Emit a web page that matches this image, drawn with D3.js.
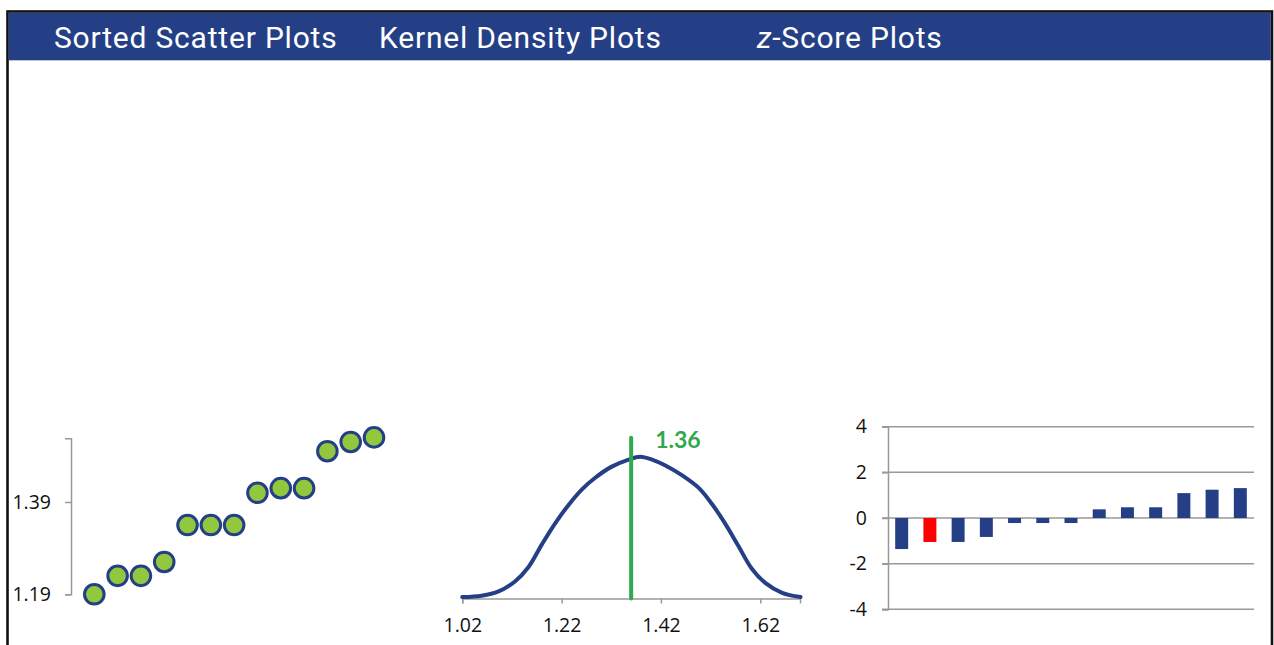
<html>
	<head>
		<meta content="text/html;charset=utf-8" http-equiv="Content-Type">
		<script src="https://d3js.org/d3.v7.min.js"></script>
		<style>
			body { margin: 0; background: #ffffff; }
			.axis path, .axis line { stroke: #999999; stroke-width: 1.5; }
			.axis text { font-family: "Open Sans", "Liberation Sans", sans-serif; font-size: 19.5px; fill: #111111; }
		</style>
	</head>
	<body>
		<div id="stuff">
			<svg width="1274" height="645"></svg>
		</div>
		<script>

	// header titles
	var titles = ["Sorted Scatter Plots", "Kernel Density Plots", "-Score Plots"];

	// sorted scatter plot
	var scatterValues = [1.19, 1.23, 1.23, 1.26, 1.34, 1.34, 1.34, 1.41, 1.42, 1.42, 1.50, 1.52, 1.53];
	var scatterTicks = [1.19, 1.39];

	// kernel density curve
	var densityX = [1.020, 1.059, 1.093, 1.126, 1.153, 1.180, 1.207, 1.234, 1.261, 1.287, 1.321, 1.355,
		1.378, 1.402, 1.428, 1.462, 1.496, 1.522, 1.549, 1.576, 1.603, 1.630, 1.664, 1.701];
	var densityY = [0.01, 0.02, 0.05, 0.12, 0.22, 0.38, 0.53, 0.66, 0.77, 0.85, 0.93, 0.98,
		1.00, 0.98, 0.94, 0.87, 0.78, 0.67, 0.53, 0.37, 0.21, 0.11, 0.04, 0.01];
	var densityTicks = [1.02, 1.22, 1.42, 1.62];
	var meanValue = 1.36;

	// z-score bars
	var zScores = [-1.36, -1.05, -1.05, -0.83, -0.22, -0.22, -0.22, 0.38, 0.47, 0.47, 1.09, 1.24, 1.31];
	var zTicks = [4, 2, 0, -2, -4];
	var highlightIndex = 1;

	var navy = "#253f86";
	var green = "#2fa84f";
	var svg = d3.select("#stuff").select("svg");

	drawFrame();
	drawScatter();
	drawDensity();
	drawZScores();

	/**
	 * @function drawFrame
	 * @description black border and blue title band
	 */
	function drawFrame() {
		svg.append("rect")
			.attr("x", 7.5)
			.attr("y", 11.5)
			.attr("width", 1264.5)
			.attr("height", 700)
			.attr("fill", "#ffffff")
			.attr("stroke", "#111111")
			.attr("stroke-width", 2.6);
		svg.append("rect")
			.attr("x", 8.8)
			.attr("y", 12.8)
			.attr("width", 1262)
			.attr("height", 47.5)
			.attr("fill", navy);
		var titleX = [54, 379, 757];
		titles.forEach(function(t, i) {
			var txt = svg.append("text")
				.attr("x", titleX[i])
				.attr("y", 47.5)
				.attr("font-family", "Roboto, sans-serif")
				.style("font-size", "30px")
				.style("letter-spacing", "0.8px")
				.attr("fill", "#ffffff");
			if (i === 2) {
				txt.append("tspan").style("font-style", "italic").text("z");
			}
			txt.append("tspan").text(t);
		});
	}

	/**
	 * @function drawScatter
	 * @description sorted values as green dots
	 */
	function drawScatter() {
		var x = d3.scaleLinear().domain([1, scatterValues.length]).range([94.3, 374]);
		var y = d3.scaleLinear().domain([1.19, 1.528]).range([594.3, 438.3]);
		svg.append("g")
			.attr("class", "axis")
			.attr("transform", "translate(71,0)")
			.call(d3.axisLeft(y).tickValues(scatterTicks).tickSizeOuter(0).tickSize(6).tickPadding(14).tickFormat(d3.format(".2f")));
		svg.selectAll(".dot")
			.data(scatterValues)
			.enter()
			.append("circle")
			.attr("class", "dot")
			.attr("cx", function(d, i) { return x(i + 1); })
			.attr("cy", function(d) { return y(d); })
			.attr("r", 9.8)
			.attr("fill", "#92c83e")
			.attr("stroke", navy)
			.attr("stroke-width", 3);
	}

	/**
	 * @function drawDensity
	 * @description density curve with the mean marked
	 */
	function drawDensity() {
		var x = d3.scaleLinear().domain([1.02, 1.70]).range([462.3, 800]);
		var y = d3.scaleLinear().domain([0, 1]).range([598.5, 456.7]);
		svg.append("g")
			.attr("class", "axis")
			.attr("transform", "translate(0,598.5)")
			.call(d3.axisBottom(x).tickValues(densityTicks).tickSizeOuter(0).tickSize(5).tickPadding(15).tickFormat(d3.format(".2f")));
		var line = d3.line()
			.x(function(d) { return x(d[0]); })
			.y(function(d) { return y(d[1]); })
			.curve(d3.curveCatmullRom);
		svg.append("path")
			.datum(d3.zip(densityX, densityY))
			.attr("d", line)
			.attr("fill", "none")
			.attr("stroke", navy)
			.attr("stroke-width", 4)
			.attr("stroke-linecap", "round");
		svg.append("line")
			.attr("x1", x(meanValue))
			.attr("x2", x(meanValue))
			.attr("y1", 437.7)
			.attr("y2", 598.5)
			.attr("stroke", green)
			.attr("stroke-width", 4)
			.attr("stroke-linecap", "round");
		svg.append("text")
			.attr("x", x(meanValue) + 24)
			.attr("y", 447.5)
			.attr("font-family", "Lato, sans-serif")
			.style("font-size", "23px")
			.style("font-weight", 700)
			.attr("fill", green)
			.text(d3.format(".2f")(meanValue));
	}

	/**
	 * @function drawZScores
	 * @description z-score bars with gridlines
	 */
	function drawZScores() {
		var x = d3.scaleBand().domain(d3.range(zScores.length)).range([888, 1254]).paddingInner(0.54).paddingOuter(0.255);
		var y = d3.scaleLinear().domain([-4, 4]).range([609.3, 426.7]);
		// gridlines
		svg.append("g")
			.selectAll("line")
			.data(zTicks)
			.enter()
			.append("line")
			.attr("x1", 882)
			.attr("x2", 1254)
			.attr("y1", function(d) { return y(d); })
			.attr("y2", function(d) { return y(d); })
			.attr("stroke", "#999999")
			.attr("stroke-width", 1.5);
		svg.append("g")
			.attr("class", "axis")
			.attr("transform", "translate(888,0)")
			.call(d3.axisLeft(y).tickValues(zTicks).tickSizeOuter(0).tickSize(6).tickPadding(15).tickFormat(function(d) { return String(d); }));
		svg.selectAll(".bar")
			.data(zScores)
			.enter()
			.append("rect")
			.attr("class", "bar")
			.attr("x", function(d, i) { return x(i); })
			.attr("width", x.bandwidth())
			.attr("y", function(d) { return y(Math.max(0, d)); })
			.attr("height", function(d) { return Math.abs(y(d) - y(0)); })
			.attr("fill", function(d, i) { return i === highlightIndex ? "#ff0000" : navy; });
	}

		</script>
	</body>
</html>
